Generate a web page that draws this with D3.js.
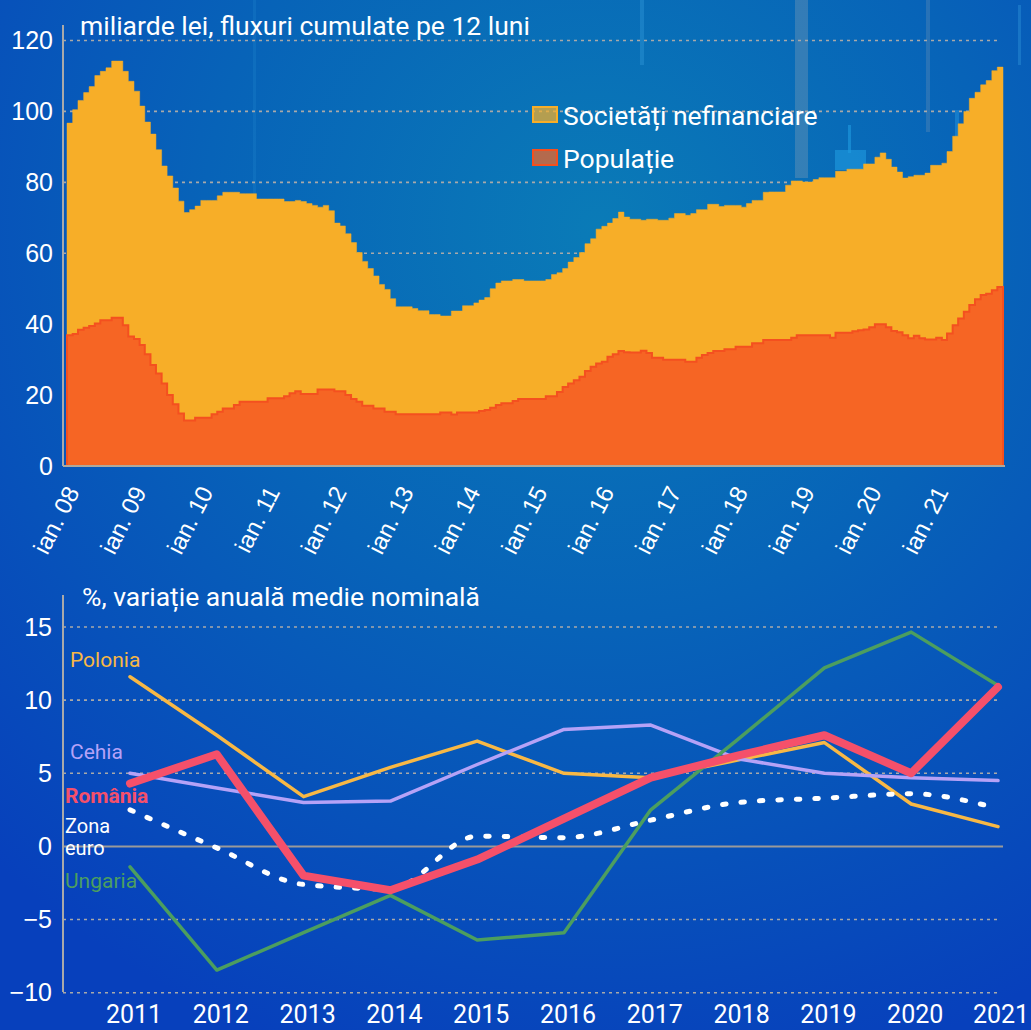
<!DOCTYPE html>
<html>
<head>
<meta charset="utf-8">
<script src="https://cdn.jsdelivr.net/npm/d3@7"></script>
<style>
html, body { margin: 0; padding: 0; background: #0858b8; }
svg { display: block; font-family: Roboto, "Noto Sans", sans-serif; }
</style>
</head>
<body>
<svg id="svg" width="1031" height="1030"></svg>
<script>
// ---- date grafic 1: fluxuri cumulate pe 12 luni, lunar ian. 2008 - dec. 2021 (mld. lei)
const lunaStart = new Date(2008, 0, 1);
const populatie = [
  36.9, 37.2, 38.4, 39.0, 39.5, 40.2, 41.1, 41.1, 41.8, 41.8, 39.7, 36.5,
  35.8, 34.1, 31.5, 28.5, 26.1, 23.3, 20.0, 17.4, 14.8, 12.8, 12.8, 13.6,
  13.6, 13.6, 14.6, 15.3, 16.2, 16.2, 17.2, 18.1, 18.1, 18.1, 18.1, 18.1,
  19.1, 19.1, 19.1, 19.7, 20.5, 21.1, 20.3, 20.3, 20.3, 21.6, 21.6, 21.6,
  21.1, 21.1, 20.0, 18.9, 18.1, 17.0, 17.0, 16.2, 16.2, 15.3, 15.3, 14.6,
  14.6, 14.6, 14.6, 14.6, 14.6, 14.6, 14.6, 15.1, 15.1, 14.5, 15.1, 15.1,
  15.1, 15.1, 15.5, 15.8, 16.4, 17.2, 17.7, 17.7, 18.3, 18.9, 18.9, 18.9,
  18.9, 18.9, 19.7, 19.7, 20.9, 22.3, 23.3, 24.2, 25.2, 26.8, 28.0, 28.9,
  29.4, 30.8, 31.5, 32.4, 32.1, 32.0, 32.0, 32.5, 31.9, 30.5, 30.5, 30.0,
  30.0, 30.0, 30.0, 29.4, 29.4, 30.5, 31.3, 31.9, 32.4, 32.4, 32.9, 32.9,
  33.6, 33.6, 33.6, 34.6, 34.6, 35.5, 35.5, 35.5, 35.5, 35.5, 36.2, 36.9,
  36.9, 36.9, 36.9, 36.9, 36.9, 36.2, 37.6, 37.6, 37.6, 38.0, 38.3, 38.5,
  39.1, 40.0, 40.0, 39.1, 38.1, 37.7, 36.9, 36.0, 36.7, 36.0, 35.7, 35.7,
  36.2, 35.5, 37.4, 39.7, 41.6, 43.5, 45.4, 47.0, 48.2, 48.6, 49.6, 50.5
];
const societati = [
  59.8, 63.3, 64.7, 66.3, 67.5, 69.9, 70.2, 71.2, 72.4, 72.4, 71.6, 72.0,
  69.9, 67.4, 65.5, 65.1, 63.1, 61.3, 61.8, 61.0, 59.9, 58.7, 59.5, 59.7,
  61.3, 61.3, 60.3, 60.9, 61.0, 61.0, 60.0, 58.7, 58.7, 58.7, 57.2, 57.2,
  56.2, 56.2, 56.2, 54.9, 54.1, 53.8, 54.3, 53.7, 53.2, 51.4, 51.9, 50.4,
  47.4, 46.6, 45.5, 44.1, 42.1, 40.7, 38.7, 37.4, 35.0, 34.5, 31.9, 30.3,
  30.3, 30.3, 29.8, 29.2, 29.2, 28.1, 28.1, 27.2, 27.2, 29.2, 28.6, 30.1,
  30.1, 30.9, 31.3, 31.7, 33.6, 34.4, 34.5, 34.5, 34.3, 33.7, 33.3, 33.3,
  33.3, 33.3, 32.9, 34.3, 33.6, 33.4, 34.2, 34.6, 35.0, 35.9, 36.1, 37.9,
  38.2, 37.7, 38.3, 39.2, 38.1, 37.6, 37.6, 36.8, 37.7, 39.1, 38.8, 39.3,
  39.9, 41.2, 41.2, 41.3, 41.8, 41.8, 41.0, 41.9, 41.4, 40.8, 40.6, 40.6,
  39.9, 39.4, 40.4, 40.3, 40.3, 41.7, 41.8, 41.8, 41.8, 43.7, 44.2, 43.5,
  43.2, 43.2, 43.9, 44.4, 44.4, 45.1, 45.5, 45.5, 46.1, 45.7, 45.4, 46.7,
  46.1, 47.1, 48.3, 47.4, 46.2, 45.2, 44.3, 45.6, 45.3, 46.0, 46.9, 49.1,
  48.6, 49.9, 51.3, 53.3, 54.9, 56.5, 58.3, 58.4, 59.3, 60.1, 61.9, 62.0
];
const ticksSus = [0, 20, 40, 60, 80, 100, 120];
const gridSus = [60, 80, 100, 120];
const serii = [
  { key: "populatie", nume: "Populație", culoare: "#f66524", contur: "#f4501f" },
  { key: "societati", nume: "Societăți nefinanciare", culoare: "#f7ae28", contur: "#f7ae28" }
];

// ---- date grafic 2: variatie anuala medie nominala (%)
const ani = [2011, 2012, 2013, 2014, 2015, 2016, 2017, 2018, 2019, 2020, 2021];
const polonia  = [11.6, 7.6, 3.4, 5.4, 7.2, 5.0, 4.7, 5.9, 7.1, 2.9, 1.35];
const cehia    = [5.0, 4.0, 3.0, 3.1, 5.6, 8.0, 8.3, 6.0, 5.0, 4.7, 4.5];
const ungaria  = [-1.4, -8.45, -5.9, -3.35, -6.4, -5.9, 2.5, 7.3, 12.2, 14.65, 11.0];
const zonaEuro = [2.5, -0.1, -2.6, -2.9, 0.7, 0.6, 1.8, 3.0, 3.3, 3.6, 2.6];
const romania  = [4.3, 6.3, -2.0, -3.0, -0.9, 1.9, 4.7, 6.2, 7.6, 5.0, 10.9];
const ticksJos = [-10, -5, 0, 5, 10, 15];

const svg = d3.select("#svg");
const W = 1031, H = 1030;

/* fundal */
const defs = svg.append("defs");
const rg = defs.append("radialGradient").attr("id", "bg")
  .attr("cx", "58%").attr("cy", "22%").attr("r", "85%");
rg.append("stop").attr("offset", "0%").attr("stop-color", "#0a7bb7");
rg.append("stop").attr("offset", "45%").attr("stop-color", "#0763b8");
rg.append("stop").attr("offset", "100%").attr("stop-color", "#0740bc");
svg.append("rect").attr("width", W).attr("height", H).attr("fill", "url(#bg)");

// decor discret in fundal
const decor = [
  [253, 0, 3, 210, "#2b95d8", 0.2], [640, 0, 4, 65, "#3aa0e0", 0.35],
  [795, 0, 13, 178, "#9aaab5", 0.3], [835, 150, 31, 20, "#1f9be0", 0.6],
  [848, 125, 3, 28, "#1f9be0", 0.6], [926, 0, 4, 132, "#8aa0b2", 0.25],
  [1018, 5, 3, 60, "#3aa0e0", 0.35], [955, 110, 4, 30, "#2aa0e8", 0.4]
];
svg.append("g").selectAll("rect").data(decor).join("rect")
  .attr("x", d => d[0]).attr("y", d => d[1]).attr("width", d => d[2]).attr("height", d => d[3])
  .attr("fill", d => d[4]).attr("opacity", d => d[5]);

/* ============ grafic 1 ============ */
const luni = populatie.map((p, i) => ({
  data: d3.timeMonth.offset(lunaStart, i), populatie: p, societati: societati[i]
}));
// punct de inchidere pentru ultima treapta
const randuri = luni.concat([{ ...luni[luni.length - 1], data: d3.timeMonth.offset(lunaStart, luni.length) }]);

const x1 = d3.scaleTime().domain([lunaStart, d3.timeMonth.offset(lunaStart, luni.length)]).range([67, 1003]);
const y1 = d3.scaleLinear().domain([0, 120]).range([466, 40.5]);

const g1 = svg.append("g");
g1.append("g").selectAll("line").data(gridSus).join("line")
  .attr("x1", 63).attr("x2", 1000).attr("y1", d => y1(d)).attr("y2", d => y1(d))
  .attr("stroke", "#a9a9a9").attr("stroke-width", 1.6).attr("stroke-dasharray", "3,4");

const stiva = d3.stack().keys(serii.map(s => s.key))(randuri);
const arie = d3.area().curve(d3.curveStepAfter)
  .x(d => x1(d.data.data)).y0(d => y1(d[0])).y1(d => y1(d[1]));

g1.selectAll(".arie").data(stiva).join("path")
  .attr("class", "arie")
  .attr("d", arie)
  .attr("fill", (d, i) => serii[i].culoare)
  .attr("stroke", (d, i) => serii[i].contur)
  .attr("stroke-width", (d, i) => i === 0 ? 2 : 0.5);
// populatia deasupra, ca sa se vada conturul
g1.select(".arie").raise();

const axX1 = g1.append("g").attr("transform", "translate(0,466)")
  .call(d3.axisBottom(x1)
    .tickValues(d3.timeYear.range(new Date(2008, 0, 1), new Date(2021, 1, 1)))
    .tickSize(0)
    .tickFormat(d => "ian. " + d3.timeFormat("%y")(d)));
axX1.select(".domain").attr("stroke", "#b0a89a").attr("stroke-width", 2)
  .attr("d", "M63,0H1005");
axX1.selectAll("text")
  .attr("fill", "#fff").attr("font-size", 24)
  .attr("text-anchor", "end")
  .attr("x", 0).attr("y", 0).attr("dy", "0.35em")
  .attr("transform", "translate(5,22) rotate(-63)");

const axY1 = g1.append("g").attr("transform", "translate(63,0)")
  .call(d3.axisLeft(y1).tickValues(ticksSus).tickSize(0).tickPadding(10));
axY1.select(".domain").attr("stroke", "#a9a9a9").attr("stroke-width", 2)
  .attr("d", "M0,25V466");
axY1.selectAll("text").attr("fill", "#fff").attr("font-size", 25);

svg.append("text").attr("x", 80).attr("y", 35)
  .attr("fill", "#fff").attr("font-size", 26.5)
  .text("miliarde lei, fluxuri cumulate pe 12 luni");

// legenda
const leg = svg.append("g").attr("transform", "translate(533,107)");
const ordineLeg = [serii[1], serii[0]];
const li = leg.selectAll("g").data(ordineLeg).join("g")
  .attr("transform", (d, i) => `translate(0,${i * 43})`);
li.append("rect").attr("width", 24).attr("height", 15)
  .attr("fill", d => d.culoare).attr("fill-opacity", 0.72)
  .attr("stroke", d => d.contur).attr("stroke-width", 2);
li.append("text").attr("x", 30).attr("y", 18)
  .attr("fill", "#fff").attr("font-size", 26.5).text(d => d.nume);

/* ============ grafic 2 ============ */
const x2 = d3.scalePoint().domain(ani).range([130, 998]);
const y2 = d3.scaleLinear().domain([-10, 15]).range([992.7, 627]);

const g2 = svg.append("g");
g2.append("g").selectAll("line").data(ticksJos.filter(t => t !== 0)).join("line")
  .attr("x1", 63).attr("x2", 998).attr("y1", d => y2(d)).attr("y2", d => y2(d))
  .attr("stroke", "#a9a9a9").attr("stroke-width", 1.6).attr("stroke-dasharray", "3,4");
g2.append("line").attr("x1", 63).attr("x2", 1003).attr("y1", y2(0)).attr("y2", y2(0))
  .attr("stroke", "#9a9a9a").attr("stroke-width", 2);

const axY2 = g2.append("g").attr("transform", "translate(63,0)")
  .call(d3.axisLeft(y2).tickValues(ticksJos).tickSize(0).tickPadding(11));
axY2.select(".domain").attr("stroke", "#a9a9a9").attr("stroke-width", 2)
  .attr("d", "M0,595V992");
axY2.selectAll("text").attr("fill", "#fff").attr("font-size", 25);

g2.append("g").selectAll("text").data(ani).join("text")
  .attr("x", d => Math.min(x2(d) + 4, 1001)).attr("y", 1023)
  .attr("text-anchor", "middle").attr("fill", "#fff").attr("font-size", 25)
  .text(d => d);

const linie = d3.line().x((d, i) => x2(ani[i])).y(d => y2(d));
const linii = [
  { v: polonia, culoare: "#f8b845", lat: 3.5 },
  { v: cehia, culoare: "#b5a2f7", lat: 3.5 },
  { v: ungaria, culoare: "#4c9e5f", lat: 3.5 },
  { v: zonaEuro, culoare: "#ffffff", lat: 5, dash: "3.5,15", curba: d3.curveMonotoneX },
  { v: romania, culoare: "#f5506a", lat: 8 }
];
g2.selectAll(".serie").data(linii).join("path")
  .attr("class", "serie")
  .attr("d", d => linie.curve(d.curba || d3.curveLinear)(d.v))
  .attr("fill", "none")
  .attr("stroke", d => d.culoare)
  .attr("stroke-width", d => d.lat)
  .attr("stroke-linejoin", "round")
  .attr("stroke-linecap", "round")
  .attr("stroke-dasharray", d => d.dash || null);

const etichete = [
  { t: "Polonia", x: 70, y: 667, c: "#f8b845", b: 400, s: 21 },
  { t: "Cehia", x: 70, y: 759, c: "#b5a2f7", b: 400, s: 21 },
  { t: "România", x: 65, y: 803, c: "#f5506a", b: 700, s: 21 },
  { t: "Zona", x: 65, y: 833, c: "#ffffff", b: 400, s: 20 },
  { t: "euro", x: 65, y: 855, c: "#ffffff", b: 400, s: 20 },
  { t: "Ungaria", x: 65, y: 888, c: "#4c9e5f", b: 400, s: 21 }
];
g2.append("g").selectAll("text").data(etichete).join("text")
  .attr("x", d => d.x).attr("y", d => d.y)
  .attr("fill", d => d.c).attr("font-weight", d => d.b).attr("font-size", d => d.s)
  .text(d => d.t);

svg.append("text").attr("x", 82).attr("y", 606)
  .attr("fill", "#fff").attr("font-size", 26.5)
  .text("%, variație anuală medie nominală");
</script>
</body>
</html>
